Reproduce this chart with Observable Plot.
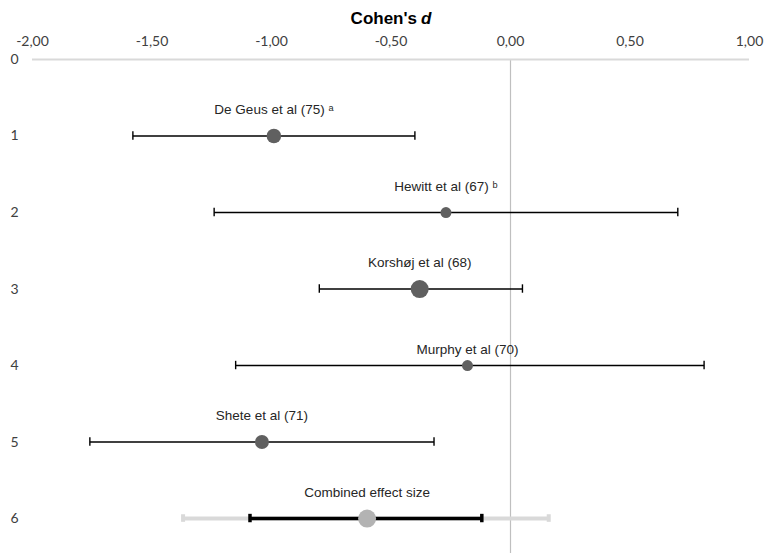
<!DOCTYPE html>
<html>
<head>
<meta charset="utf-8">
<script src="https://cdn.jsdelivr.net/npm/d3@7"></script>
<script src="https://cdn.jsdelivr.net/npm/@observablehq/plot@0.6"></script>
<style>
  html, body { margin: 0; padding: 0; background: #fff; }
</style>
</head>
<body>
<div id="chart"></div>
<script>
// Data
const studies = ["De Geus et al (75) ᵃ", "Hewitt et al (67) ᵇ", "Korshøj et al (68)", "Murphy et al (70)", "Shete et al (71)", "Combined effect size"];
const rows = [1, 2, 3, 4, 5, 6];
const effect = [-0.99, -0.27, -0.38, -0.18, -1.04, -0.60];
const ciLow = [-1.58, -1.24, -0.80, -1.15, -1.76, -1.09];
const ciHigh = [-0.40, 0.70, 0.05, 0.81, -0.32, -0.12];
const weight = [53, 30, 81, 30, 49, 81];
// Prediction interval of the combined effect (light grey bar)
const predLow = [-1.37];
const predHigh = [0.16];
const xTicks = [-2, -1.5, -1, -0.5, 0, 0.5, 1];
const yTicks = [0, 1, 2, 3, 4, 5, 6];

const data = studies.map((s, i) => ({
  study: s, row: rows[i], d: effect[i], lo: ciLow[i], hi: ciHigh[i], w: weight[i], combined: i === studies.length - 1
}));
const indiv = data.filter(d => !d.combined);
const comb = data.filter(d => d.combined);
const pred = comb.map((d, i) => ({row: d.row, lo: predLow[i], hi: predHigh[i]}));

const fmt = v => v.toFixed(2).replace(".", ",");
const cap = 0.055;

const chart = Plot.plot({
  width: 764,
  height: 553,
  marginLeft: 32,
  marginRight: 15,
  marginTop: 59,
  marginBottom: 0,
  style: {fontFamily: "Liberation Sans, Arial, sans-serif", background: "#fff", overflow: "visible"},
  x: {domain: [-2, 1], axis: null},
  y: {domain: [0, 6.457], reverse: true, axis: null},
  r: {type: "sqrt", domain: [0, 81], range: [0, 9]},
  marks: [
    Plot.ruleX([0], {stroke: "#bfbfbf", strokeWidth: 1.2}),
    Plot.ruleY([0], {stroke: "#d9d9d9", strokeWidth: 2}),
    Plot.axisX({
      anchor: "top", ticks: xTicks, tickSize: 0, tickPadding: 14, tickFormat: fmt,
      fontFamily: "Lato, sans-serif", fontSize: 14, fill: "#404040", label: null
    }),
    Plot.axisY({
      anchor: "left", ticks: yTicks, tickSize: 0, tickPadding: 14, tickFormat: d => String(d),
      fontFamily: "Lato, sans-serif", fontSize: 14, fill: "#404040", label: null
    }),
    // title
    Plot.text(["Cohen's"], {frameAnchor: "top", text: d => d, dx: 26, dy: -41, textAnchor: "end", lineAnchor: "middle",
      fontWeight: "bold", fontSize: 17, fill: "#000"}),
    Plot.text(["d"], {frameAnchor: "top", text: d => d, dx: 30, dy: -41, textAnchor: "start", lineAnchor: "middle",
      fontWeight: "bold", fontStyle: "italic", fontSize: 17, fill: "#000"}),
    // combined: prediction interval (light grey)
    Plot.link(pred, {x1: "lo", x2: "hi", y1: "row", y2: "row", stroke: "#d9d9d9", strokeWidth: 4}),
    Plot.ruleX(pred, {x: "lo", y1: d => d.row - cap * 0.9, y2: d => d.row + cap * 0.9, stroke: "#d9d9d9", strokeWidth: 4}),
    Plot.ruleX(pred, {x: "hi", y1: d => d.row - cap * 0.9, y2: d => d.row + cap * 0.9, stroke: "#d9d9d9", strokeWidth: 4}),
    // combined CI (thick black)
    Plot.link(comb, {x1: "lo", x2: "hi", y1: "row", y2: "row", stroke: "#000", strokeWidth: 3.5}),
    Plot.ruleX(comb, {x: "lo", y1: d => d.row - cap, y2: d => d.row + cap, stroke: "#000", strokeWidth: 3.5}),
    Plot.ruleX(comb, {x: "hi", y1: d => d.row - cap, y2: d => d.row + cap, stroke: "#000", strokeWidth: 3.5}),
    // individual CIs
    Plot.link(indiv, {x1: "lo", x2: "hi", y1: "row", y2: "row", stroke: "#000", strokeWidth: 1.4}),
    Plot.ruleX(indiv, {x: "lo", y1: d => d.row - cap, y2: d => d.row + cap, stroke: "#000", strokeWidth: 1.4}),
    Plot.ruleX(indiv, {x: "hi", y1: d => d.row - cap, y2: d => d.row + cap, stroke: "#000", strokeWidth: 1.4}),
    // points
    Plot.dot(indiv, {x: "d", y: "row", r: "w", fill: "#606060", stroke: "none"}),
    Plot.dot(comb, {x: "d", y: "row", r: "w", fill: "#b3b3b3", stroke: "none"}),
    // labels
    Plot.text(data.filter(d => !d.study.startsWith("Murphy")), {x: "d", y: "row", text: "study", dy: -26, lineAnchor: "middle",
      fontSize: 13.5, fill: "#262626"}),
    Plot.text(data.filter(d => d.study.startsWith("Murphy")), {x: "d", y: "row", text: "study", dy: -16, lineAnchor: "middle",
      fontSize: 13.5, fill: "#262626"})
  ]
});
document.getElementById("chart").appendChild(chart);
</script>
</body>
</html>
